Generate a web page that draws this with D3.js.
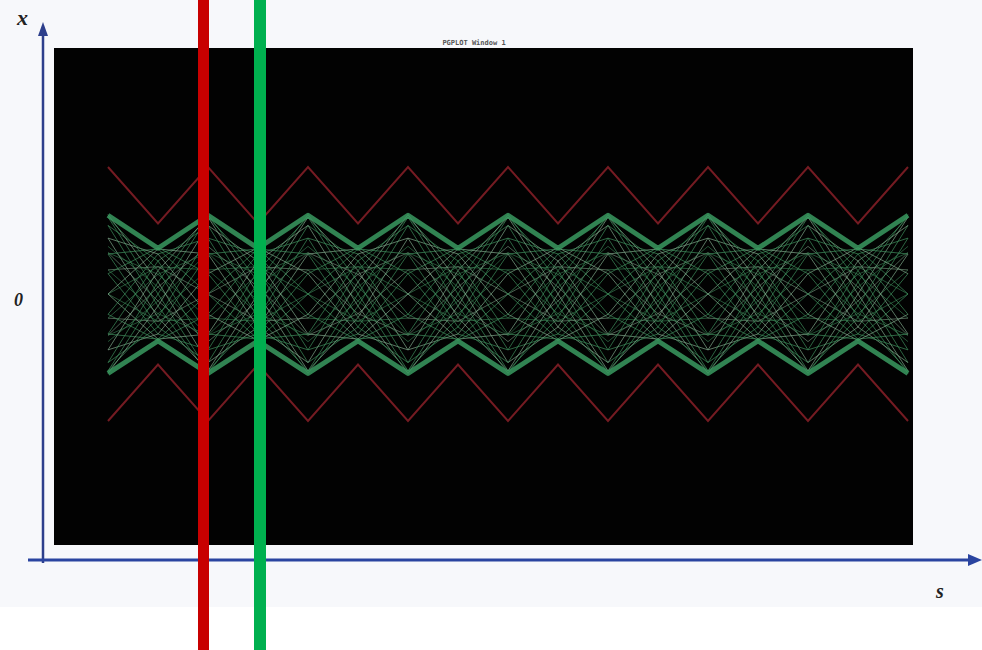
<!DOCTYPE html>
<html>
<head>
<meta charset="utf-8">
<script src="https://cdn.jsdelivr.net/npm/d3@7"></script>
<style>
  body { margin: 0; background: #ffffff; }
  svg { display: block; }
</style>
</head>
<body>
<div id="viz-container"></div>
<script>
// lattice nodes (lens positions, m) - wide node at even index, narrow at odd
const sNodes = [0, 0.5, 1, 1.5, 2, 2.5, 3, 3.5, 4, 4.5, 5, 5.5, 6, 6.5, 7, 7.5, 8];

// aperture (red)
const apertureTop = [20, 11.1, 20, 11.1, 20, 11.1, 20, 11.1, 20, 11.1, 20, 11.1, 20, 11.1, 20, 11.1, 20];
const apertureBottom = [-20, -11.1, -20, -11.1, -20, -11.1, -20, -11.1, -20, -11.1, -20, -11.1, -20, -11.1, -20, -11.1, -20];

// beam envelope (green edge)
const envelopeTop = [12.4, 7.2, 12.4, 7.2, 12.4, 7.2, 12.4, 7.2, 12.4, 7.2, 12.4, 7.2, 12.4, 7.2, 12.4, 7.2, 12.4];
const envelopeBottom = [-12.5, -7.4, -12.5, -7.4, -12.5, -7.4, -12.5, -7.4, -12.5, -7.4, -12.5, -7.4, -12.5, -7.4, -12.5, -7.4, -12.5];

// particle rays on the beam edge, x at each node
const rays = [
  [12.5,1.9,-10.8,-5.2,6.3,7.1,0,-7.1,-6.3,5.2,10.8,-1.9,-12.5,-1.9,10.8,5.2,-6.3],
  [12.1,0,-12.1,-3.7,8.8,6.3,-3.2,-7.3,-3.2,6.3,8.8,-3.7,-12.1,0,12.1,3.7,-8.8],
  [10.8,-1.9,-12.5,-1.9,10.8,5.2,-6.3,-7.1,0,7.1,6.3,-5.2,-10.8,1.9,12.5,1.9,-10.8],
  [8.8,-3.7,-12.1,0,12.1,3.7,-8.8,-6.3,3.2,7.3,3.2,-6.3,-8.8,3.7,12.1,0,-12.1],
  [6.3,-5.2,-10.8,1.9,12.5,1.9,-10.8,-5.2,6.3,7.1,0,-7.1,-6.3,5.2,10.8,-1.9,-12.5],
  [3.2,-6.3,-8.8,3.7,12.1,0,-12.1,-3.7,8.8,6.3,-3.2,-7.3,-3.2,6.3,8.8,-3.7,-12.1],
  [0,-7.1,-6.3,5.2,10.8,-1.9,-12.5,-1.9,10.8,5.2,-6.3,-7.1,0,7.1,6.3,-5.2,-10.8],
  [-3.2,-7.3,-3.2,6.3,8.8,-3.7,-12.1,0,12.1,3.7,-8.8,-6.3,3.2,7.3,3.2,-6.3,-8.8],
  [-6.3,-7.1,0,7.1,6.3,-5.2,-10.8,1.9,12.5,1.9,-10.8,-5.2,6.3,7.1,0,-7.1,-6.3],
  [-8.8,-6.3,3.2,7.3,3.2,-6.3,-8.8,3.7,12.1,0,-12.1,-3.7,8.8,6.3,-3.2,-7.3,-3.2],
  [-10.8,-5.2,6.3,7.1,0,-7.1,-6.3,5.2,10.8,-1.9,-12.5,-1.9,10.8,5.2,-6.3,-7.1,0],
  [-12.1,-3.7,8.8,6.3,-3.2,-7.3,-3.2,6.3,8.8,-3.7,-12.1,0,12.1,3.7,-8.8,-6.3,3.2],
  [-12.5,-1.9,10.8,5.2,-6.3,-7.1,0,7.1,6.3,-5.2,-10.8,1.9,12.5,1.9,-10.8,-5.2,6.3],
  [-12.1,0,12.1,3.7,-8.8,-6.3,3.2,7.3,3.2,-6.3,-8.8,3.7,12.1,0,-12.1,-3.7,8.8],
  [-10.8,1.9,12.5,1.9,-10.8,-5.2,6.3,7.1,0,-7.1,-6.3,5.2,10.8,-1.9,-12.5,-1.9,10.8],
  [-8.8,3.7,12.1,0,-12.1,-3.7,8.8,6.3,-3.2,-7.3,-3.2,6.3,8.8,-3.7,-12.1,0,12.1],
  [-6.3,5.2,10.8,-1.9,-12.5,-1.9,10.8,5.2,-6.3,-7.1,0,7.1,6.3,-5.2,-10.8,1.9,12.5],
  [-3.2,6.3,8.8,-3.7,-12.1,0,12.1,3.7,-8.8,-6.3,3.2,7.3,3.2,-6.3,-8.8,3.7,12.1],
  [0,7.1,6.3,-5.2,-10.8,1.9,12.5,1.9,-10.8,-5.2,6.3,7.1,0,-7.1,-6.3,5.2,10.8],
  [3.2,7.3,3.2,-6.3,-8.8,3.7,12.1,0,-12.1,-3.7,8.8,6.3,-3.2,-7.3,-3.2,6.3,8.8],
  [6.3,7.1,0,-7.1,-6.3,5.2,10.8,-1.9,-12.5,-1.9,10.8,5.2,-6.3,-7.1,0,7.1,6.3],
  [8.8,6.3,-3.2,-7.3,-3.2,6.3,8.8,-3.7,-12.1,0,12.1,3.7,-8.8,-6.3,3.2,7.3,3.2],
  [10.8,5.2,-6.3,-7.1,0,7.1,6.3,-5.2,-10.8,1.9,12.5,1.9,-10.8,-5.2,6.3,7.1,0],
  [12.1,3.7,-8.8,-6.3,3.2,7.3,3.2,-6.3,-8.8,3.7,12.1,0,-12.1,-3.7,8.8,6.3,-3.2]
];

// inner rays (smaller amplitude)
const innerRays = [
  [7.5,1.1,-6.5,-3.1,3.8,4.3,0,-4.3,-3.8,3.1,6.5,-1.1,-7.5,-1.1,6.5,3.1,-3.8],
  [6.5,-1.1,-7.5,-1.1,6.5,3.1,-3.8,-4.3,0,4.3,3.8,-3.1,-6.5,1.1,7.5,1.1,-6.5],
  [3.8,-3.1,-6.5,1.1,7.5,1.1,-6.5,-3.1,3.8,4.3,0,-4.3,-3.8,3.1,6.5,-1.1,-7.5],
  [0,-4.3,-3.8,3.1,6.5,-1.1,-7.5,-1.1,6.5,3.1,-3.8,-4.3,0,4.3,3.8,-3.1,-6.5],
  [-3.8,-4.3,0,4.3,3.8,-3.1,-6.5,1.1,7.5,1.1,-6.5,-3.1,3.8,4.3,0,-4.3,-3.8],
  [-6.5,-3.1,3.8,4.3,0,-4.3,-3.8,3.1,6.5,-1.1,-7.5,-1.1,6.5,3.1,-3.8,-4.3,0],
  [-7.5,-1.1,6.5,3.1,-3.8,-4.3,0,4.3,3.8,-3.1,-6.5,1.1,7.5,1.1,-6.5,-3.1,3.8],
  [-6.5,1.1,7.5,1.1,-6.5,-3.1,3.8,4.3,0,-4.3,-3.8,3.1,6.5,-1.1,-7.5,-1.1,6.5],
  [-3.8,3.1,6.5,-1.1,-7.5,-1.1,6.5,3.1,-3.8,-4.3,0,4.3,3.8,-3.1,-6.5,1.1,7.5],
  [0,4.3,3.8,-3.1,-6.5,1.1,7.5,1.1,-6.5,-3.1,3.8,4.3,0,-4.3,-3.8,3.1,6.5],
  [3.8,4.3,0,-4.3,-3.8,3.1,6.5,-1.1,-7.5,-1.1,6.5,3.1,-3.8,-4.3,0,4.3,3.8],
  [6.5,3.1,-3.8,-4.3,0,4.3,3.8,-3.1,-6.5,1.1,7.5,1.1,-6.5,-3.1,3.8,4.3,0]
];

// marker positions along s (the two vertical bars)
const markerS = [0.955, 1.52];
const markerWidths = [11, 12];
const markerColors = ["#c80000", "#00b04f"];

const W = 982, H = 650;

let viz = d3.select("#viz-container")
  .append("svg")
    .attr("width", W)
    .attr("height", H);

// scanned page tint
viz.append("rect")
  .attr("x", 0).attr("y", 0)
  .attr("width", W).attr("height", 607)
  .attr("fill", "#f7f8fb");

let x = d3.scaleLinear().domain([0, 8]).range([108, 908]);
let y = d3.scaleLinear().domain([-40, 40]).range([548, 40]);

// PGPLOT window
viz.append("rect")
  .attr("x", 54).attr("y", 48)
  .attr("width", 859).attr("height", 497)
  .attr("fill", "#020202");

viz.append("text")
  .attr("x", 474).attr("y", 45)
  .attr("text-anchor", "middle")
  .style("font-family", "DejaVu Sans Mono, monospace")
  .style("font-size", "7px")
  .style("font-weight", "bold")
  .attr("fill", "#555")
  .text("PGPLOT Window 1");

let line = d3.line()
  .x((d, i) => x(sNodes[i]))
  .y(d => y(d));

// aperture
[apertureTop, apertureBottom].forEach(a => {
  viz.append("path")
    .attr("d", line(a))
    .attr("fill", "none")
    .attr("stroke", "#741b22")
    .attr("stroke-width", 2);
});

// rays
viz.append("g").selectAll("path").data(innerRays).enter()
  .append("path")
    .attr("d", line)
    .attr("fill", "none")
    .attr("stroke", (d, i) => i % 3 == 1 ? "#7a9f84" : "#3b8757")
    .attr("stroke-width", 1)
    .attr("opacity", 0.6);

viz.append("g").selectAll("path").data(rays).enter()
  .append("path")
    .attr("d", line)
    .attr("fill", "none")
    .attr("stroke", (d, i) => i % 3 == 0 ? "#7fa88a" : "#3f8f5c")
    .attr("stroke-width", 1)
    .attr("opacity", 0.7);

// envelope edge
[envelopeTop, envelopeBottom].forEach(e => {
  viz.append("path")
    .attr("d", line(e))
    .attr("fill", "none")
    .attr("stroke", "#3a9a60")
    .attr("stroke-width", 5)
    .attr("stroke-linejoin", "round")
    .attr("opacity", 0.85);
});

// axes
let axisColor = "#2a44a0";
viz.append("line")
  .attr("x1", 43).attr("y1", 563)
  .attr("x2", 43).attr("y2", 32)
  .attr("stroke", "#2d3f8c").attr("stroke-width", 2.5);
viz.append("path")
  .attr("d", "M43,22 L38,36 L48,36 Z")
  .attr("fill", "#2d3f8c");
viz.append("line")
  .attr("x1", 28).attr("y1", 560)
  .attr("x2", 972).attr("y2", 560)
  .attr("stroke", axisColor).attr("stroke-width", 3);
viz.append("path")
  .attr("d", "M982,560 L968,554 L968,566 Z")
  .attr("fill", axisColor);

let labelStyle = t => t
  .style("font-family", "Liberation Serif, DejaVu Serif, serif")
  .style("font-style", "italic")
  .style("font-weight", "bold")
  .attr("fill", "#222");

labelStyle(viz.append("text").attr("x", 17).attr("y", 25).style("font-size", "22px").text("x"));
labelStyle(viz.append("text").attr("x", 14).attr("y", 306).style("font-size", "18px").text("0"));
labelStyle(viz.append("text").attr("x", 936).attr("y", 598).style("font-size", "20px").text("s"));

// vertical marker bars
viz.selectAll(".marker").data(markerS).enter()
  .append("rect")
    .attr("class", "marker")
    .attr("x", (d, i) => x(d) - markerWidths[i] / 2)
    .attr("y", 0)
    .attr("width", (d, i) => markerWidths[i])
    .attr("height", H)
    .attr("fill", (d, i) => markerColors[i]);
</script>
</body>
</html>
